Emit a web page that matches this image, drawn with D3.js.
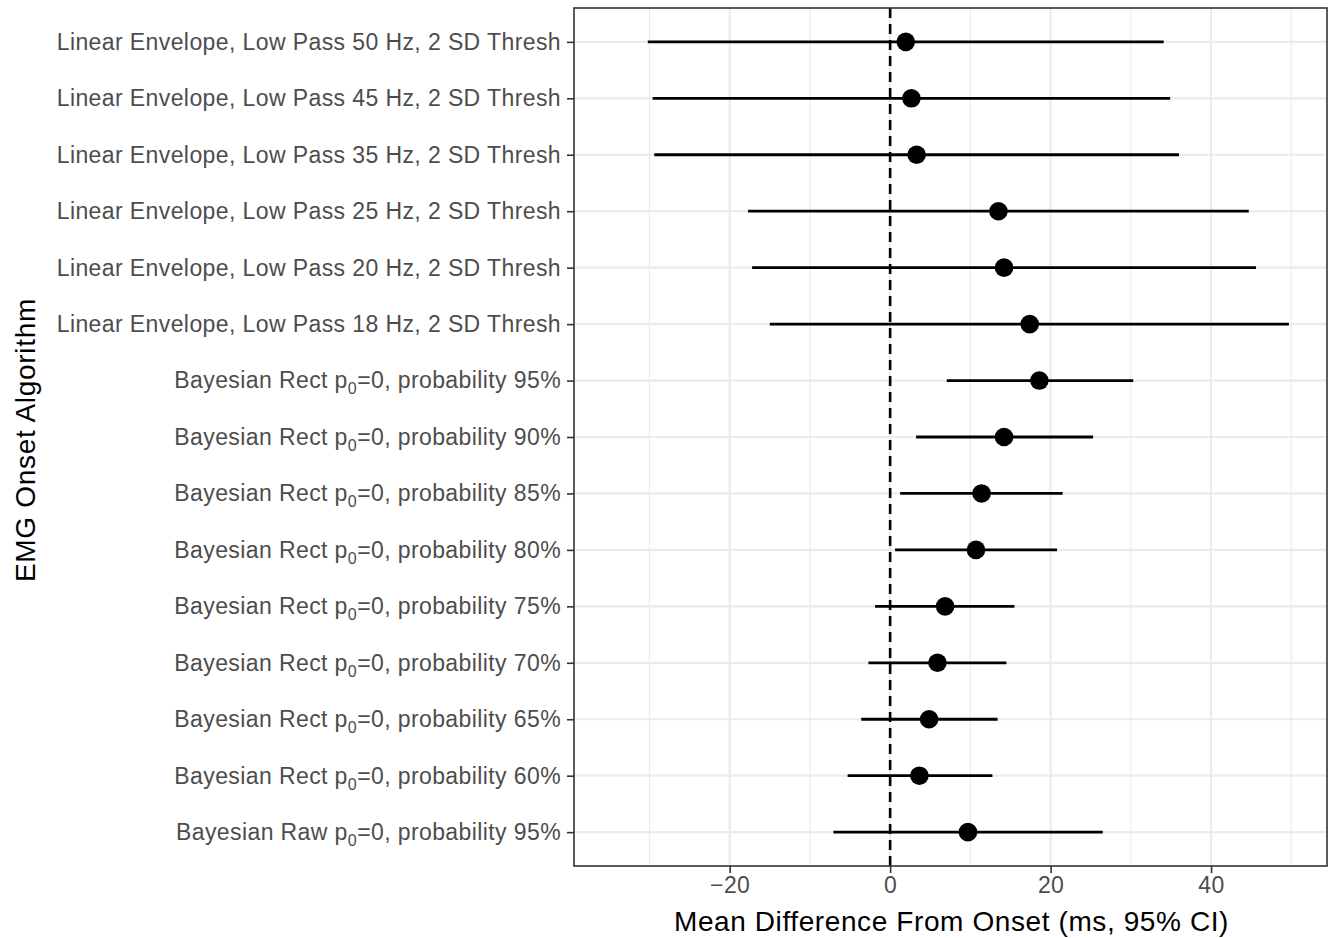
<!DOCTYPE html>
<html>
<head>
<meta charset="utf-8">
<script src="https://cdn.jsdelivr.net/npm/d3@7"></script>
<style>
  body { margin: 0; background: #fff; }
  text { font-family: "Liberation Sans", Arial, Helvetica, sans-serif; }
</style>
</head>
<body>
<div id="chart"></div>
<script>
// rows top to bottom; "_0" marks a subscript zero
const algorithms = [
  'Linear Envelope, Low Pass 50 Hz, 2 SD Thresh',
  'Linear Envelope, Low Pass 45 Hz, 2 SD Thresh',
  'Linear Envelope, Low Pass 35 Hz, 2 SD Thresh',
  'Linear Envelope, Low Pass 25 Hz, 2 SD Thresh',
  'Linear Envelope, Low Pass 20 Hz, 2 SD Thresh',
  'Linear Envelope, Low Pass 18 Hz, 2 SD Thresh',
  'Bayesian Rect p_0=0, probability 95%',
  'Bayesian Rect p_0=0, probability 90%',
  'Bayesian Rect p_0=0, probability 85%',
  'Bayesian Rect p_0=0, probability 80%',
  'Bayesian Rect p_0=0, probability 75%',
  'Bayesian Rect p_0=0, probability 70%',
  'Bayesian Rect p_0=0, probability 65%',
  'Bayesian Rect p_0=0, probability 60%',
  'Bayesian Raw p_0=0, probability 95%'
];
const meanDiff = [1.95, 2.65, 3.3, 13.5, 14.2, 17.4, 18.6, 14.2, 11.4, 10.7, 6.85, 5.9, 4.86, 3.65, 9.7];
const ciLow    = [-30.2, -29.6, -29.4, -17.7, -17.2, -15.0, 7.06, 3.24, 1.25, 0.62, -1.87, -2.7, -3.6, -5.3, -7.07];
const ciHigh   = [34.1, 34.9, 36.0, 44.7, 45.6, 49.7, 30.3, 25.3, 21.5, 20.8, 15.5, 14.5, 13.4, 12.75, 26.5];
const xMajor = [-20, 0, 20, 40];
const xMinor = [-30, -10, 10, 30, 50];
const xDomain = [-39.4, 54.45];

const W = 1331, H = 938;
const MARGIN = { LEFT: 574, RIGHT: 4, TOP: 8, BOTTOM: 72 };
const plotW = W - MARGIN.LEFT - MARGIN.RIGHT;
const plotH = H - MARGIN.TOP - MARGIN.BOTTOM;

const rows = algorithms.map((a, i) => ({ name: a, est: meanDiff[i], lo: ciLow[i], hi: ciHigh[i] }));

const x = d3.scaleLinear().domain(xDomain).range([0, plotW]);
// ggplot discrete expansion: 0.6 of a step on each side
const step = plotH / (algorithms.length - 1 + 1.2);
const y = d3.scalePoint().domain(algorithms).range([0.6 * step, plotH - 0.6 * step]);

const svg = d3.select('#chart').append('svg')
  .attr('width', W).attr('height', H);

const g = svg.append('g')
  .attr('transform', `translate(${MARGIN.LEFT},${MARGIN.TOP})`);

// grid
g.selectAll('.minor').data(xMinor).enter().append('line')
  .attr('x1', d => x(d)).attr('x2', d => x(d))
  .attr('y1', 0).attr('y2', plotH)
  .attr('stroke', '#EBEBEB').attr('stroke-width', 1.1);
g.selectAll('.major').data(xMajor).enter().append('line')
  .attr('x1', d => x(d)).attr('x2', d => x(d))
  .attr('y1', 0).attr('y2', plotH)
  .attr('stroke', '#EBEBEB').attr('stroke-width', 2.2);
g.selectAll('.hgrid').data(algorithms).enter().append('line')
  .attr('x1', 0).attr('x2', plotW)
  .attr('y1', d => y(d)).attr('y2', d => y(d))
  .attr('stroke', '#EBEBEB').attr('stroke-width', 2.2);

// zero reference
g.append('line')
  .attr('x1', x(0)).attr('x2', x(0))
  .attr('y1', 0).attr('y2', plotH)
  .attr('stroke', '#000').attr('stroke-width', 2.6)
  .attr('stroke-dasharray', '10,6');

// CI lines and points
g.selectAll('.ci').data(rows).enter().append('line')
  .attr('x1', d => x(d.lo)).attr('x2', d => x(d.hi))
  .attr('y1', d => y(d.name)).attr('y2', d => y(d.name))
  .attr('stroke', '#000').attr('stroke-width', 2.8);
g.selectAll('.pt').data(rows).enter().append('circle')
  .attr('cx', d => x(d.est)).attr('cy', d => y(d.name))
  .attr('r', 9.3).attr('fill', '#000');

// panel border
g.append('rect')
  .attr('x', 0).attr('y', 0).attr('width', plotW).attr('height', plotH)
  .attr('fill', 'none').attr('stroke', '#333').attr('stroke-width', 1.6);

// x axis
const xAxis = g.append('g').attr('transform', `translate(0,${plotH})`)
  .call(d3.axisBottom(x).tickValues(xMajor).tickSize(7).tickPadding(4)
    .tickFormat(d => d < 0 ? '\u2212' + Math.abs(d) : d));
xAxis.select('.domain').remove();
xAxis.selectAll('line').attr('stroke', '#333').attr('stroke-width', 1.6);
xAxis.selectAll('text').attr('fill', '#4D4D4D')
  .style('font-size', '23px').style('letter-spacing', '0.4px');

// y axis
const yAxis = g.append('g')
  .call(d3.axisLeft(y).tickSize(7).tickPadding(6));
yAxis.select('.domain').remove();
yAxis.selectAll('line').attr('stroke', '#333').attr('stroke-width', 1.6);
yAxis.selectAll('text').each(function(d) {
  const t = d3.select(this).text('')
    .attr('fill', '#4D4D4D').style('font-size', '23px').style('letter-spacing', '0.4px');
  const parts = d.split('_0');
  if (parts.length === 1) { t.text(d); return; }
  t.append('tspan').text(parts[0]);
  t.append('tspan').text('0').attr('dy', 6).style('font-size', '16px');
  t.append('tspan').text(parts[1]).attr('dy', -6);
});

// axis titles
svg.append('text')
  .attr('x', MARGIN.LEFT + plotW / 2 + 1).attr('y', 931)
  .attr('text-anchor', 'middle').attr('fill', '#000')
  .style('font-size', '28px').style('letter-spacing', '0.6px')
  .text('Mean Difference From Onset (ms, 95% CI)');
svg.append('text')
  .attr('transform', `translate(35,${MARGIN.TOP + plotH / 2 + 3}) rotate(-90)`)
  .attr('text-anchor', 'middle').attr('fill', '#000')
  .style('font-size', '28px').style('letter-spacing', '0.7px')
  .text('EMG Onset Algorithm');
</script>
</body>
</html>
